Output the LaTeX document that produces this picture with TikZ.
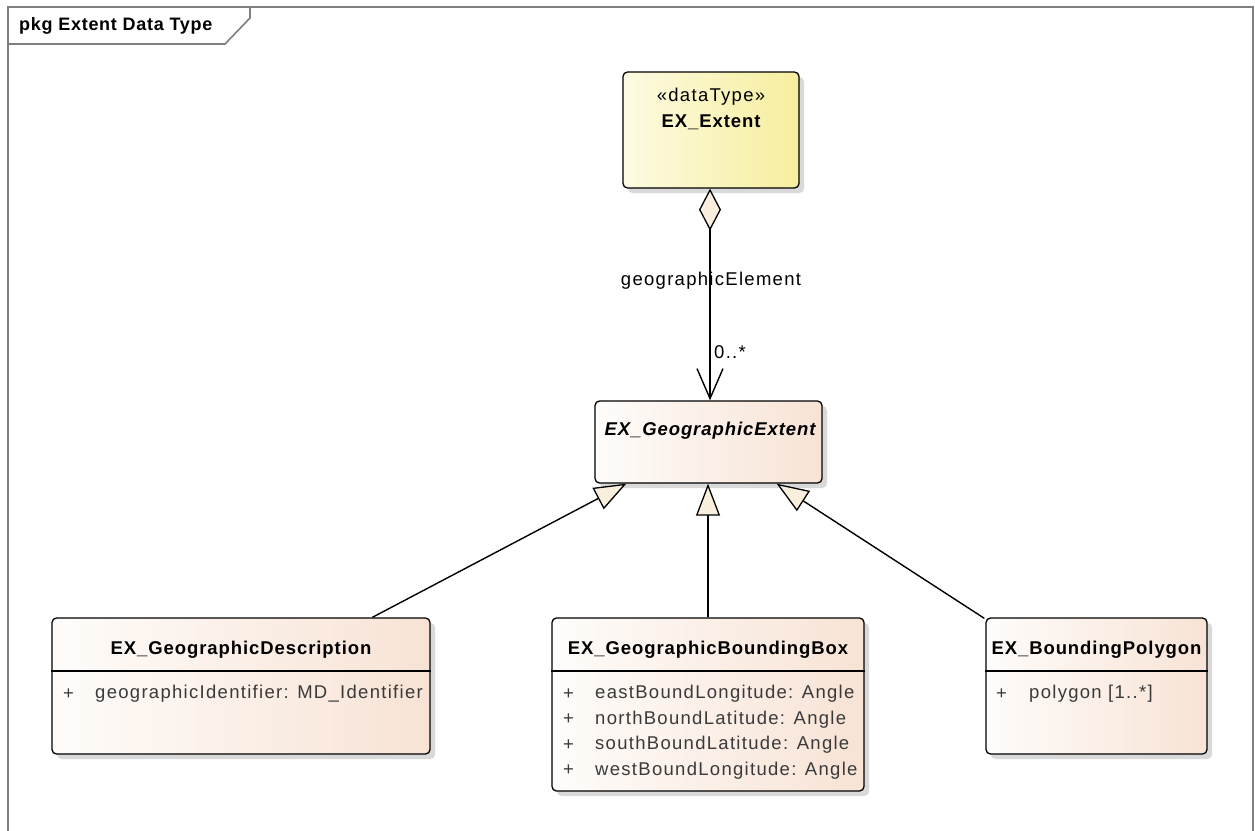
\documentclass[tikz,border=0pt]{standalone}
\usepackage{fontspec}
\setmainfont{Liberation Sans}
\newfontfamily\umlfont{Liberation Sans}[LetterSpace=7]
\newfontfamily\umlbold{Liberation Sans}[LetterSpace=5]
\newfontfamily\tabfont{Liberation Sans}[LetterSpace=4]
\usetikzlibrary{arrows.meta,shadows,calc}

\definecolor{frameGray}{HTML}{7F7F7F}
\definecolor{dtLeft}{HTML}{FDFBE2}
\definecolor{dtRight}{HTML}{F6EE9E}
\definecolor{clsLeft}{HTML}{FEFCFA}
\definecolor{clsRight}{HTML}{F8E3D5}
\definecolor{tipFill}{HTML}{FAEEDC}
\definecolor{attrGray}{HTML}{3A3A3A}
\definecolor{shadowGray}{HTML}{D9D9D9}

\newcommand\umlsize{\umlfont\fontsize{18.5}{22}\selectfont}
\newcommand\umlboldsize{\umlbold\fontsize{18.5}{22}\selectfont\bfseries}

\tikzset{
  box/.style={draw=black, line width=1.3pt, rounded corners=4.5pt, inner sep=0pt,
    drop shadow={fill=shadowGray, opacity=1, shadow xshift=5pt, shadow yshift=-5pt}},
  datatype/.style={box, left color=dtLeft, right color=dtRight},
  classbox/.style={box, left color=clsLeft, right color=clsRight},
  title/.style={font=\umlboldsize, text=black, inner sep=0pt},
  attr/.style={font=\umlsize, text=attrGray, inner sep=0pt, anchor=west},
  sep/.style={line width=1.3pt},
  link/.style={line width=1.4pt, draw=black},
  general/.style={link, -{Triangle[open, fill=tipFill, length=32pt, width=24pt, line width=1.3pt]}},
  assoc/.style={link, {Diamond[open, fill=tipFill, length=42pt, width=22pt, line width=1.3pt]}-{Straight Barb[length=30pt, width=26pt, line width=1.4pt]}},
  lbl/.style={font=\umlsize, text=black, inner sep=0pt}
}

\begin{document}
\begin{tikzpicture}[x=1pt, y=-1pt]
\useasboundingbox (0,0) rectangle (1255,830);

% package frame and its name tab
\draw[frameGray, line width=2pt] (7.5,840) -- (7.5,7) -- (1253,7) -- (1253,840);
\draw[frameGray, line width=1.6pt] (7.5,44) -- (225,44) -- (250,18) -- (250,7);
\node[font=\tabfont\fontsize{18}{21}\selectfont\bfseries, anchor=west, inner sep=0pt] (pkg) at (19,26) {pkg Extent Data Type};

% classes
\node[datatype, minimum width=176pt, minimum height=116pt] (ext) at (711,130) {};
\node[lbl] (extSt) at (711,97) {«dataType»};
\node[title] (extT) at (711,122) {EX\_Extent};

\node[classbox, minimum width=227pt, minimum height=82pt] (gext) at (708.5,442) {};
\node[title, font=\umlboldsize\itshape] (gextT) at (710,431) {EX\_GeographicExtent};

\node[classbox, minimum width=378pt, minimum height=136pt] (desc) at (241,686) {};
\node[title] (descT) at (241,650) {EX\_GeographicDescription};
\draw[sep] (desc.west |- 0,671) -- (desc.east |- 0,671);
\node[attr] (descP) at (63,694) {+};
\node[attr] (descA) at (95,694) {geographicIdentifier: MD\_Identifier};

\node[classbox, minimum width=312pt, minimum height=173pt] (bbox) at (708,704.5) {};
\node[title] (bboxT) at (708,650) {EX\_GeographicBoundingBox};
\draw[sep] (bbox.west |- 0,671) -- (bbox.east |- 0,671);
\node[attr] (bboxP1) at (563,694) {+};
\node[attr] (bboxA1) at (595,694) {eastBoundLongitude: Angle};
\node[attr] (bboxP2) at (563,719.5) {+};
\node[attr] (bboxA2) at (595,719.5) {northBoundLatitude: Angle};
\node[attr] (bboxP3) at (563,745) {+};
\node[attr] (bboxA3) at (595,745) {southBoundLatitude: Angle};
\node[attr] (bboxP4) at (563,770.5) {+};
\node[attr] (bboxA4) at (595,770.5) {westBoundLongitude: Angle};

\node[classbox, minimum width=221pt, minimum height=136pt] (poly) at (1096.5,686) {};
\node[title] (polyT) at (1096.5,650) {EX\_BoundingPolygon};
\draw[sep] (poly.west |- 0,671) -- (poly.east |- 0,671);
\node[attr] (polyP) at (996,694) {+};
\node[attr] (polyA) at (1029,694) {polygon [1..*]};

% association labels
\node[lbl] (roleName) at (711,281) {geographicElement};
\node[lbl, anchor=west] (mult) at (714,352) {0..*};

% aggregation EX_Extent -> EX_GeographicExtent
\draw[assoc] ($(ext.south)+(-1,0)$) -- ($(ext.south |- gext.north)+(-1,0)$);

% generalizations
\draw[general] ($(desc.north west)+(321,0)$) -- ($(gext.south west)+(32,0)$);
\draw[general] (bbox.north) -- (bbox.north |- gext.south);
\draw[general] ($(poly.north west)+(-1,1)$) -- ($(gext.south east)+(-46,0)$);
\end{tikzpicture}
\end{document}
